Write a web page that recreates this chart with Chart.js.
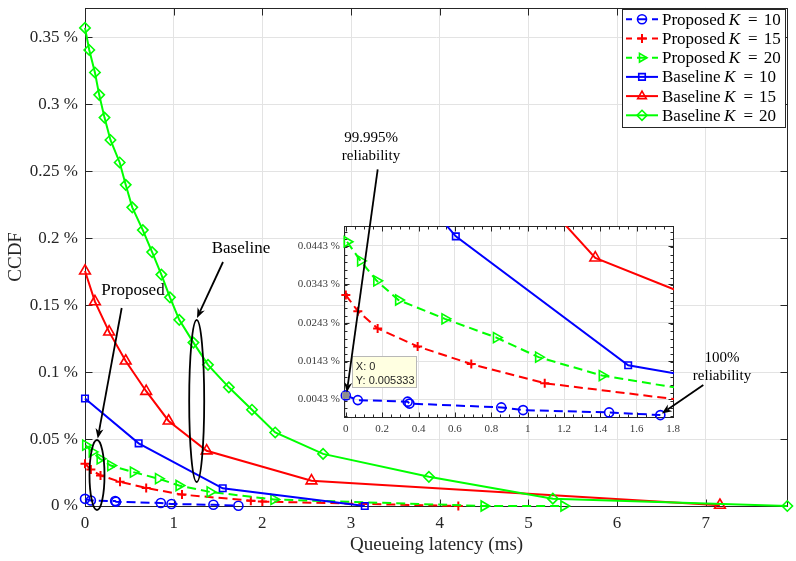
<!DOCTYPE html>
<html><head><meta charset="utf-8">
<script src="https://cdn.jsdelivr.net/npm/chart.js@4.4.1/dist/chart.umd.min.js"></script>
<style>
html,body{margin:0;padding:0;background:#fff;}
#wrap{position:relative;width:796px;height:561px;background:#fff;}
canvas{position:absolute;left:0;top:0;}
</style></head><body>
<div id="wrap"><canvas id="main" width="796" height="561"></canvas><canvas id="inset" width="796" height="561"></canvas></div>
<script>
// ---------------- data (latency in ms, CCDF in %) ----------------
const seriesNames = ['Proposed', 'Proposed', 'Proposed', 'Baseline', 'Baseline', 'Baseline'];
const seriesK = ['10', '15', '20', '10', '15', '20'];

const P10_x = [0, 0.066, 0.34, 0.35, 0.855, 0.975, 1.448, 1.73];
const P10_y = [0.005333, 0.0041, 0.0037, 0.0032, 0.0022, 0.0015, 0.0009, 0.0002];
const P15_x = [0, 0.066, 0.175, 0.395, 0.69, 1.094, 1.87, 2.0, 4.21];
const P15_y = [0.0315, 0.0273, 0.0228, 0.0181, 0.0135, 0.0085, 0.0040, 0.0033, 0];
const P20_x = [0.007, 0.081, 0.17, 0.29, 0.545, 0.828, 1.06, 1.41, 2.13, 4.50, 5.40];
const P20_y = [0.0454, 0.0404, 0.0352, 0.0302, 0.0253, 0.0204, 0.0153, 0.0105, 0.0049, 0, 0];
const B10_x = [0, 0.605, 1.553, 3.155];
const B10_y = [0.0803, 0.0468, 0.0132, 0];
const B15_x = [0, 0.112, 0.272, 0.459, 0.69, 0.943, 1.372, 2.554, 7.16];
const B15_y = [0.1755, 0.1526, 0.1300, 0.1083, 0.0857, 0.0635, 0.0412, 0.0188, 0.0006];
const B20_x = [0, 0.048, 0.112, 0.16, 0.22, 0.287, 0.391, 0.459, 0.533, 0.652, 0.757, 0.861, 0.958, 1.063, 1.223, 1.387, 1.622, 1.883, 2.145, 2.685, 3.878, 5.276, 7.92];
const B20_y = [0.357, 0.3405, 0.3237, 0.3070, 0.2900, 0.2733, 0.2565, 0.2398, 0.2230, 0.2060, 0.1896, 0.1728, 0.1558, 0.1390, 0.1220, 0.1054, 0.0886, 0.0719, 0.0549, 0.0389, 0.0218, 0.0055, 0];

const mainXTicks = [0, 1, 2, 3, 4, 5, 6, 7];
const mainXTickLabels = ['0', '1', '2', '3', '4', '5', '6', '7'];
const mainYTicks = [0, 0.05, 0.1, 0.15, 0.2, 0.25, 0.3, 0.35];
const mainYTickLabels = ['0 %', '0.05 %', '0.1 %', '0.15 %', '0.2 %', '0.25 %', '0.3 %', '0.35 %'];
const insetXTicks = [0, 0.2, 0.4, 0.6, 0.8, 1, 1.2, 1.4, 1.6, 1.8];
const insetXTickLabels = ['0', '0.2', '0.4', '0.6', '0.8', '1', '1.2', '1.4', '1.6', '1.8'];
const insetYTicks = [0.0043, 0.0143, 0.0243, 0.0343, 0.0443];
const insetYTickLabels = ['0.0043 %', '0.0143 %', '0.0243 %', '0.0343 %', '0.0443 %'];

// ---------------- styling ----------------
const SERIF = "'Liberation Serif','Times New Roman',serif";
const SANS = "'Liberation Sans',Arial,sans-serif";
const AX = '#262626';
const GRID = '#e3e3e3';
const seriesX = [P10_x, P15_x, P20_x, B10_x, B15_x, B20_x];
const seriesY = [P10_y, P15_y, P20_y, B10_y, B15_y, B20_y];
const styles = [
  {color: '#0000ff', dash: true,  shape: 'circle',   r: 4.5, rot: 0,  bw: 1.6},
  {color: '#ff0000', dash: true,  shape: 'cross',    r: 4.5, rot: 0,  bw: 2},
  {color: '#00ff00', dash: true,  shape: 'triangle', r: 5.8, rot: 90, bw: 1.6},
  {color: '#0000ff', dash: false, shape: 'rect',     r: 4.6, rot: 0,  bw: 1.6},
  {color: '#ff0000', dash: false, shape: 'triangle', r: 6.2, rot: 0,  bw: 1.6},
  {color: '#00ff00', dash: false, shape: 'rectRot',  r: 5.2, rot: 0,  bw: 1.6}
];

function makeDatasets(clip) {
  return styles.map((s, i) => ({
    label: seriesNames[i] + ' K = ' + seriesK[i],
    data: seriesX[i].map((x, j) => ({x: x, y: seriesY[i][j]})),
    borderColor: s.color,
    backgroundColor: 'rgba(0,0,0,0)',
    borderWidth: 2,
    borderDash: s.dash ? [9, 5] : [],
    pointStyle: s.shape,
    pointRotation: s.rot,
    pointRadius: s.r,
    pointBorderWidth: s.bw,
    pointBorderColor: s.color,
    pointBackgroundColor: 'rgba(0,0,0,0)',
    tension: 0,
    order: 6 - i,
    clip: clip
  }));
}

function fixSize(size, horiz) {
  return function (s) {
    if (horiz) s.height = size; else s.width = size;
    s.paddingTop = 0; s.paddingBottom = 0; s.paddingLeft = 0; s.paddingRight = 0;
  };
}

function drawBox(chart, o) {
  const ctx = chart.ctx, a = chart.chartArea, x = chart.scales.x, y = chart.scales.y;
  ctx.save();
  ctx.strokeStyle = AX; ctx.lineWidth = 1; ctx.setLineDash([]);
  const L = Math.round(a.left) + 0.5, R = Math.round(a.right) - 0.5;
  const T = Math.round(a.top) + 0.5, B = Math.round(a.bottom) + 0.5;
  ctx.strokeRect(L, T, R - L, B - T);
  ctx.beginPath();
  const xt = (vals, len) => vals.forEach(v => {
    const p = Math.round(x.getPixelForValue(v)) + 0.5;
    ctx.moveTo(p, B); ctx.lineTo(p, B - len); ctx.moveTo(p, T); ctx.lineTo(p, T + len);
  });
  const yt = (vals, len) => vals.forEach(v => {
    const p = Math.round(y.getPixelForValue(v)) + 0.5;
    ctx.moveTo(L, p); ctx.lineTo(L + len, p); ctx.moveTo(R, p); ctx.lineTo(R - len, p);
  });
  xt(o.xTicks, o.len); yt(o.yTicks, o.len);
  if (o.xMinor) xt(o.xMinor, o.minorLen);
  if (o.yMinor) yt(o.yMinor, o.minorLen);
  ctx.stroke();
  ctx.restore();
}

function drawMarker(ctx, s, x, y) {
  ctx.save();
  ctx.setLineDash([]);
  ctx.strokeStyle = s.color; ctx.fillStyle = 'rgba(0,0,0,0)'; ctx.lineWidth = s.bw;
  Chart.helpers.drawPoint(ctx, {pointStyle: s.shape, rotation: s.rot, radius: s.r, borderWidth: s.bw}, x, y);
  ctx.restore();
}

// ---------------- main chart ----------------
const legendPlugin = {
  id: 'mainDecor',
  beforeDatasetsDraw(chart) {
    drawBox(chart, {xTicks: mainXTicks, yTicks: mainYTicks, len: 7});
  },
  afterDraw(chart) {
    const ctx = chart.ctx;
    ctx.save();
    // legend box
    ctx.fillStyle = '#fff'; ctx.strokeStyle = AX; ctx.lineWidth = 1;
    ctx.fillRect(622.5, 9.5, 163, 118); ctx.strokeRect(622.5, 9.5, 163, 118);
    styles.forEach((s, i) => {
      const yy = 19.3 + i * 19.2;
      ctx.strokeStyle = s.color; ctx.lineWidth = 2; ctx.setLineDash([]);
      ctx.beginPath();
      if (s.dash) {
        ctx.moveTo(626, yy); ctx.lineTo(632, yy);
        ctx.moveTo(637, yy); ctx.lineTo(647, yy);
        ctx.moveTo(652, yy); ctx.lineTo(658, yy);
      } else {
        ctx.moveTo(626, yy); ctx.lineTo(658, yy);
      }
      ctx.stroke();
      drawMarker(ctx, Object.assign({}, s, {r: Math.min(s.r, 5)}), 642, yy);
      // text
      ctx.fillStyle = '#000'; ctx.textBaseline = 'middle'; ctx.textAlign = 'left';
      let x = 662;
      ctx.font = '17px ' + SERIF;
      ctx.fillText(seriesNames[i], x, yy + 1);
      x += ctx.measureText(seriesNames[i]).width + 3.5;
      ctx.font = 'italic 17px ' + SERIF;
      ctx.fillText('K', x, yy + 1);
      x += ctx.measureText('K').width + 8;
      ctx.font = '17px ' + SERIF;
      ctx.fillText('=', x, yy + 1);
      x += ctx.measureText('=').width + 6;
      ctx.fillText(seriesK[i], x, yy + 1);
    });
    ctx.restore();
  }
};

const mainChart = new Chart(document.getElementById('main'), {
  type: 'line',
  data: {datasets: makeDatasets(false)},
  options: {
    responsive: false, animation: false, events: [],
    devicePixelRatio: 1,
    layout: {padding: {top: 2, right: 1, left: 0, bottom: 0}},
    plugins: {legend: {display: false}, tooltip: {enabled: false}},
    scales: {
      x: {
        type: 'linear', min: 0, max: 7.93,
        afterFit: fixSize(55, true),
        afterBuildTicks: s => { s.ticks = mainXTicks.map(v => ({value: v})); },
        ticks: {callback: (v, i) => mainXTickLabels[i], font: {family: SERIF, size: 17}, color: AX, padding: 7, maxRotation: 0, autoSkip: false},
        grid: {color: GRID, drawTicks: false, lineWidth: 1},
        border: {display: false},
        title: {display: true, text: 'Queueing latency (ms)', font: {family: SERIF, size: 19}, color: AX, padding: {top: 0, bottom: 4.6}}
      },
      y: {
        type: 'linear', min: 0, max: 0.372,
        afterFit: fixSize(85, false),
        afterBuildTicks: s => { s.ticks = mainYTicks.map(v => ({value: v})); },
        ticks: {callback: (v, i) => mainYTickLabels[i], font: {family: SERIF, size: 17}, color: AX, padding: 7, autoSkip: false},
        grid: {color: GRID, drawTicks: false, lineWidth: 1},
        border: {display: false},
        title: {display: true, text: 'CCDF', font: {family: SERIF, size: 19}, color: AX, padding: {top: 4.6, bottom: 0}}
      }
    }
  },
  plugins: [legendPlugin]
});

// ---------------- inset chart (overlay) ----------------
const insetXMinor = [], insetYMinor = [];
for (let v = 0; v <= 1.8001; v += 0.05) insetXMinor.push(v);
for (let v = 0; v <= 0.0494; v += 0.002) insetYMinor.push(v);

function arrow(ctx, x1, y1, x2, y2) {
  const ang = Math.atan2(y2 - y1, x2 - x1);
  const len = 10, hw = 4, notch = 7;
  const bx = x2 - len * Math.cos(ang), by = y2 - len * Math.sin(ang);
  const nx = x2 - notch * Math.cos(ang), ny = y2 - notch * Math.sin(ang);
  ctx.beginPath(); ctx.moveTo(x1, y1); ctx.lineTo(nx, ny); ctx.stroke();
  ctx.beginPath();
  ctx.moveTo(x2, y2);
  ctx.lineTo(bx + hw * Math.sin(ang), by - hw * Math.cos(ang));
  ctx.lineTo(nx, ny);
  ctx.lineTo(bx - hw * Math.sin(ang), by + hw * Math.cos(ang));
  ctx.closePath(); ctx.fill();
}

const insetPlugin = {
  id: 'insetDecor',
  beforeDraw(chart) {
    const a = chart.chartArea, ctx = chart.ctx;
    ctx.save(); ctx.fillStyle = '#fff';
    ctx.fillRect(a.left, a.top, a.right - a.left, a.bottom - a.top);
    ctx.restore();
  },
  beforeDatasetsDraw(chart) {
    drawBox(chart, {xTicks: insetXTicks, yTicks: insetYTicks, len: 5, xMinor: insetXMinor, yMinor: insetYMinor, minorLen: 3});
  },
  afterDraw(chart) {
    const ctx = chart.ctx, ix = chart.scales.x, iy = chart.scales.y;
    ctx.save();
    // data tip at first point of Proposed K=10
    const px = ix.getPixelForValue(P10_x[0]), py = iy.getPixelForValue(P10_y[0]);
    ctx.fillStyle = '#ffffe1'; ctx.strokeStyle = '#b8b8b8'; ctx.lineWidth = 1;
    ctx.fillRect(Math.round(px) + 6.5, Math.round(py) - 38.5, 64, 31);
    ctx.strokeRect(Math.round(px) + 6.5, Math.round(py) - 38.5, 64, 31);
    ctx.fillStyle = '#8f8f8f';
    ctx.fillRect(px - 3.5, py - 3.5, 7, 7);
    ctx.fillStyle = '#262626'; ctx.font = '11px ' + SANS; ctx.textBaseline = 'middle'; ctx.textAlign = 'left';
    ctx.fillText('X: ' + P10_x[0], px + 10, py - 28);
    ctx.fillText('Y: ' + P10_y[0], px + 10, py - 14);

    // annotations
    ctx.strokeStyle = '#000'; ctx.fillStyle = '#000'; ctx.lineWidth = 1.8; ctx.setLineDash([]);
    ctx.font = '17px ' + SERIF; ctx.textAlign = 'center';
    ctx.fillText('Baseline', 241, 249);
    ctx.fillText('Proposed', 133, 291);
    ctx.font = '15px ' + SERIF;
    ctx.fillText('99.995%', 371, 138);
    ctx.fillText('reliability', 371, 156);
    ctx.fillText('100%', 722, 358);
    ctx.fillText('reliability', 722, 376);

    ctx.beginPath(); ctx.ellipse(196.7, 401, 7.5, 81, 0, 0, Math.PI * 2); ctx.stroke();
    ctx.beginPath(); ctx.ellipse(97, 475, 7.5, 35, 0, 0, Math.PI * 2); ctx.stroke();

    arrow(ctx, 223, 262, 197, 318);
    arrow(ctx, 121.7, 308, 97.7, 438.5);
    arrow(ctx, 377.7, 169.3, px + 1, py - 3);
    const qx = ix.getPixelForValue(P10_x[P10_x.length - 1]), qy = iy.getPixelForValue(P10_y[P10_y.length - 1]);
    arrow(ctx, 703.3, 385, qx + 1.5, qy - 1.5);
    ctx.restore();
  }
};

const insetChart = new Chart(document.getElementById('inset'), {
  type: 'line',
  data: {datasets: makeDatasets({left: 8, top: 0, right: 0, bottom: 6})},
  options: {
    responsive: false, animation: false, events: [],
    devicePixelRatio: 1,
    layout: {padding: {top: 226, right: 122, left: 0, bottom: 0}},
    plugins: {legend: {display: false}, tooltip: {enabled: false}},
    scales: {
      x: {
        type: 'linear', min: -0.01, max: 1.805,
        afterFit: fixSize(144, true),
        afterBuildTicks: s => { s.ticks = insetXTicks.map(v => ({value: v})); },
        ticks: {callback: (v, i) => insetXTickLabels[i], font: {family: SERIF, size: 11}, color: '#3a3a3a', padding: 6, maxRotation: 0, autoSkip: false},
        grid: {color: GRID, drawTicks: false, lineWidth: 1},
        border: {display: false}
      },
      y: {
        type: 'linear', min: -0.0003, max: 0.0495,
        afterFit: fixSize(344, false),
        afterBuildTicks: s => { s.ticks = insetYTicks.map(v => ({value: v})); },
        ticks: {callback: (v, i) => insetYTickLabels[i], font: {family: SERIF, size: 11}, color: '#3a3a3a', padding: 4, autoSkip: false},
        grid: {color: GRID, drawTicks: false, lineWidth: 1},
        border: {display: false}
      }
    }
  },
  plugins: [insetPlugin]
});
</script>
</body></html>
